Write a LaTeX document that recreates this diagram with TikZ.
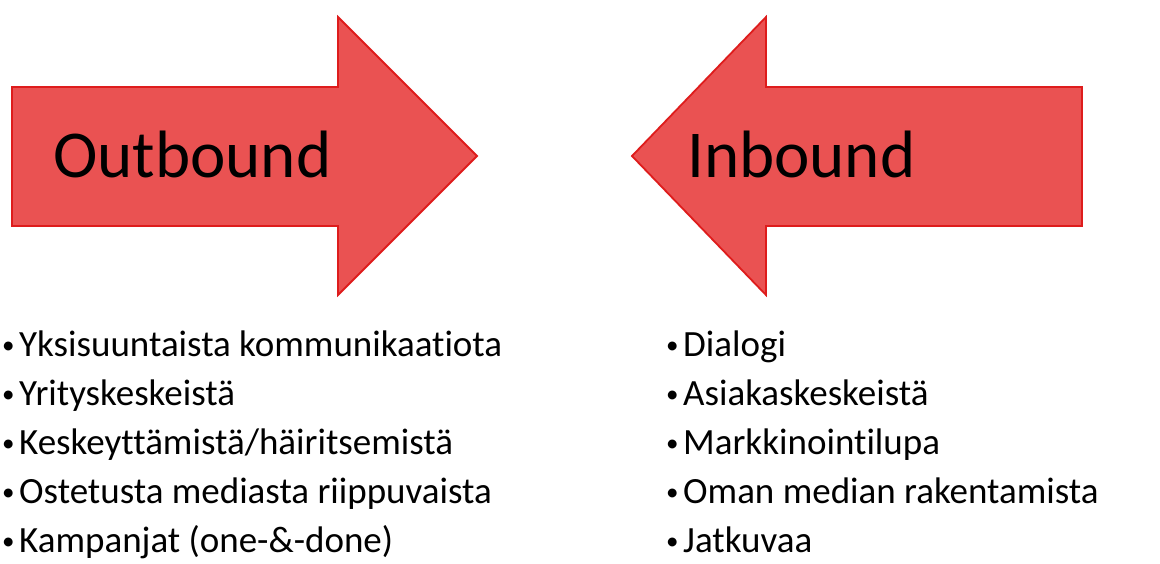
\documentclass[tikz,border=0pt]{standalone}
\usepackage{fontspec}
\setmainfont[Ligatures=NoCommon]{Carlito}
\definecolor{arrowfill}{RGB}{234,82,82}
\definecolor{arrowline}{RGB}{222,28,28}
\newcommand{\itembullet}{\makebox[19pt][l]{\hspace{2pt}\fontsize{25}{30}\selectfont\raisebox{3pt}{•}}}
\begin{document}
\begin{tikzpicture}[x=1pt,y=-1pt,
  bigarrow/.style={fill=arrowfill,draw=arrowline,line width=1.8pt,line join=miter},
  title/.style={anchor=base west,inner sep=0pt,font=\fontsize{67}{80}\selectfont},
  item/.style={anchor=base west,inner sep=0pt,font=\fontsize{37}{44}\selectfont}]
\useasboundingbox (0,0) rectangle (1160,563);
% right-pointing arrow
\draw[bigarrow] (12,87) -- (338,87) -- (338,17) -- (477,156) -- (338,295) -- (338,226) -- (12,226) -- cycle;
% left-pointing arrow
\draw[bigarrow] (1082,87) -- (766,87) -- (766,17) -- (632,156) -- (766,295) -- (766,226) -- (1082,226) -- cycle;
\node[title] (out) at (53,177) {Outbound};
\node[title] (in) at (687,177) {Inbound};
% left list
\node[item] (l1) at (0,356) {\itembullet Yksisuuntaista kommunikaatiota};
\node[item] (l2) at (0,405) {\itembullet Yrityskeskeistä};
\node[item] (l3) at (0,454) {\itembullet Keskeyttämistä/häiritsemistä};
\node[item] (l4) at (0,503) {\itembullet Ostetusta mediasta riippuvaista};
\node[item] (l5) at (0,552) {\itembullet Kampanjat (one-\&-done)};
% right list
\node[item] (r1) at (664,356) {\itembullet Dialogi};
\node[item] (r2) at (664,405) {\itembullet Asiakaskeskeistä};
\node[item] (r3) at (664,454) {\itembullet Markkinointilupa};
\node[item] (r4) at (664,503) {\itembullet Oman median rakentamista};
\node[item] (r5) at (664,552) {\itembullet Jatkuvaa};
\end{tikzpicture}
\end{document}
